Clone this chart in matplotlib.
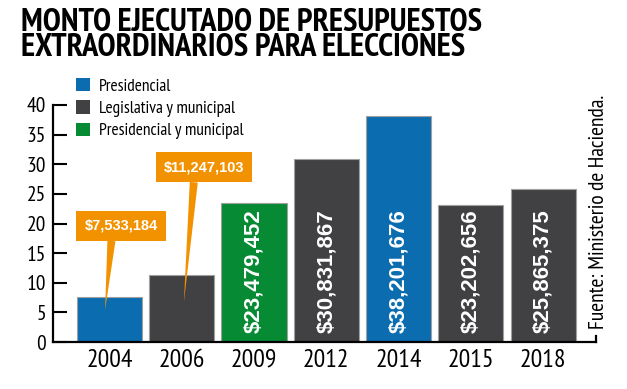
import matplotlib
matplotlib.use('Agg')
import matplotlib.pyplot as plt
from matplotlib.patches import Patch

years = ['2004', '2006', '2009', '2012', '2014', '2015', '2018']
montos = [7533184, 11247103, 23479452, 30831867, 38201676, 23202656, 25865375]
tipos = ['Presidencial', 'Legislativa y municipal', 'Presidencial y municipal',
         'Legislativa y municipal', 'Presidencial', 'Legislativa y municipal',
         'Legislativa y municipal']
etiquetas = ['$7,533,184', '$11,247,103', '$23,479,452', '$30,831,867',
             '$38,201,676', '$23,202,656', '$25,865,375']

colores = {
    'Presidencial': '#0b6db0',
    'Legislativa y municipal': '#414143',
    'Presidencial y municipal': '#068a34',
}
naranja = '#f39200'

narrow = ['PT Sans Narrow', 'DejaVu Sans']
plt.rcParams['font.family'] = narrow

fig = plt.figure(figsize=(6.27, 3.89), dpi=100)
ax = fig.add_axes([53 / 627, 1 - 342 / 389, 543 / 627, 237 / 389])

valores = [m / 1e6 for m in montos]
x = range(len(years))
ax.bar(x, valores, width=0.9, color=[colores[t] for t in tipos],
       edgecolor='#a0a0a0', linewidth=0.8)

ax.set_xlim(-0.78, 6.73)
ax.set_ylim(0, 40)
ax.set_yticks(range(0, 41, 5))
ax.set_xticks(list(x))
ax.set_xticklabels(years)
ax.tick_params(axis='y', direction='in', length=10, width=1.5, labelsize=15.5, pad=5)
ax.tick_params(axis='x', length=0, labelsize=18.5, pad=5)
for s in ['top', 'right']:
    ax.spines[s].set_visible(False)
for s in ['left', 'bottom']:
    ax.spines[s].set_linewidth(1.6)
ax.plot([1, 1], [0, 0.025], transform=ax.transAxes, color='black', lw=1.6, clip_on=False)

# etiquetas verticales dentro de las barras
for i in range(2, len(years)):
    ax.text(i, 1.6, etiquetas[i], rotation=90, ha='center', va='bottom', color='white',
            fontsize=16, fontweight='bold', family=['Liberation Sans', 'DejaVu Sans'])

# globos para las barras pequeñas
globos = [(0, (0.16, 19.6), (-0.06, 5.4)), (1, (1.31, 29.5), (1.03, 6.7))]
for i, pos, punta in globos:
    ax.annotate(etiquetas[i], xy=punta, xytext=pos, ha='center', va='center',
                color='white', fontsize=10.5, fontweight='bold',
                family=['Liberation Sans', 'DejaVu Sans'],
                bbox=dict(boxstyle='square,pad=0.55', fc=naranja, ec='none'),
                arrowprops=dict(arrowstyle='wedge,tail_width=0.55', fc=naranja, ec='none',
                                shrinkA=0, shrinkB=0, relpos=(0.38, 0)))

handles = [Patch(facecolor=colores[k], edgecolor='none') for k in colores]
fig.legend(handles, list(colores), loc='upper left', bbox_to_anchor=(76 / 627, 1 - 78 / 389),
           frameon=False, fontsize=12.5, handlelength=0.8, handleheight=0.8,
           handletextpad=0.5, labelspacing=0.33, borderpad=0, borderaxespad=0)

fig.text(21 / 627, 1 - 8 / 389, 'MONTO EJECUTADO DE PRESUPUESTOS\nEXTRAORDINARIOS PARA ELECCIONES',
         ha='left', va='top', fontsize=23.5, fontweight='bold', linespacing=0.78)
fig.text(598 / 627, 1 - 212 / 389, 'Fuente: Ministerio de Hacienda.', rotation=90,
         ha='center', va='center', fontsize=15.5)

fig.savefig('out.png', dpi=100)
